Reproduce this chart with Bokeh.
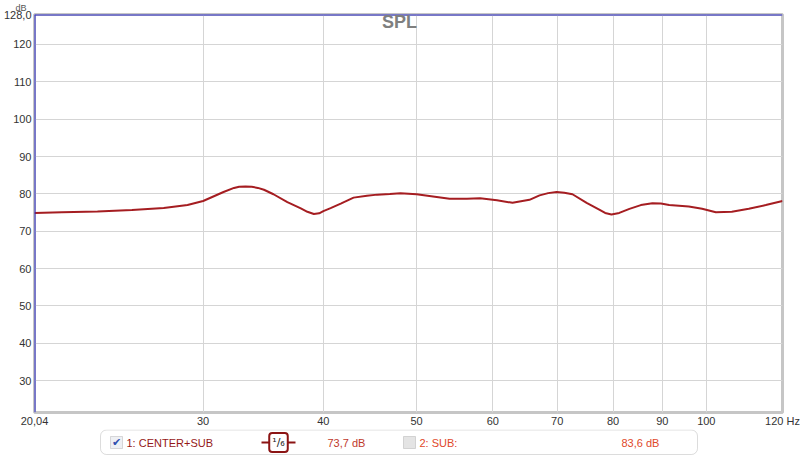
from bokeh.plotting import figure
from bokeh.layouts import column
from bokeh.models import Range1d, FixedTicker, Label, BoxAnnotation, Span, Title
from bokeh.embed import file_html
from bokeh.resources import INLINE

# ---- data ----
freq_hz = [20.04, 21.4, 23.3, 25.3, 27.3, 28.9, 30.0, 31.5, 32.3, 32.7, 33.2, 33.7, 34.2, 34.7,
           35.5, 36.7, 37.9, 38.5, 39.1, 39.6, 40.0, 40.7, 41.7, 43.0, 44.4, 45.5, 46.9, 48.1,
           50.0, 52.0, 54.1, 56.4, 58.2, 60.6, 62.9, 65.5, 67.1, 68.5, 69.9, 71.2, 72.6, 75.1,
           77.4, 78.5, 79.7, 81.2, 83.2, 85.5, 87.9, 89.7, 91.5, 95.9, 99.0, 102.3, 106.3,
           110.7, 115.3, 120.0]
spl_db = [74.9, 75.1, 75.3, 75.7, 76.2, 77.0, 78.1, 80.5, 81.6, 81.9, 82.0, 81.9, 81.6, 81.1,
          79.9, 77.8, 76.1, 75.2, 74.6, 74.8, 75.4, 76.2, 77.4, 79.0, 79.5, 79.8, 80.0, 80.2,
          79.9, 79.3, 78.7, 78.7, 78.8, 78.3, 77.6, 78.4, 79.6, 80.2, 80.5, 80.3, 79.9, 77.6,
          75.8, 74.9, 74.5, 74.9, 76.0, 77.0, 77.5, 77.4, 77.0, 76.6, 76.0, 75.1, 75.2,
          76.0, 77.0, 78.1]

x_ticks = [20.04, 30, 40, 50, 60, 70, 80, 90, 100, 120]
x_tick_labels = ["20,04", "30", "40", "50", "60", "70", "80", "90", "100", "120 Hz"]
y_ticks = [30, 40, 50, 60, 70, 80, 90, 100, 110, 120, 128]
y_tick_labels = ["30", "40", "50", "60", "70", "80", "90", "100", "110", "120", "128,0"]
x_start, x_end = 20.04, 120.0
y_start, y_end = 21.5, 128.0
y_unit_label = "dB"
title_text = "SPL"

legend_names = ["1: CENTER+SUB", "2: SUB:"]
legend_values = ["73,7 dB", "83,6 dB"]
legend_checked = [True, False]
smoothing_label = "\u00b9/\u2086"

FONT = "Liberation Sans"
CURVE = "#a51d21"
BLUE = "#2b2bc8"
FRAME_LEFT = 35  # expected left edge of the plotting frame (page px)

p = figure(width=800, height=429, x_axis_type="log",
           x_range=Range1d(x_start, x_end), y_range=Range1d(y_start, y_end),
           output_backend="svg", toolbar_location=None, title=None,
           min_border_left=33, min_border_right=18, min_border_top=14, min_border_bottom=16)
p.background_fill_color = "white"
p.border_fill_color = "white"
p.outline_line_color = "#c6c6c6"
p.outline_line_width = 3

for ax, ticks, labels in ((p.xaxis, x_ticks, x_tick_labels), (p.yaxis, y_ticks, y_tick_labels)):
    ax.ticker = FixedTicker(ticks=ticks)
    ax.major_label_overrides = {t: s for t, s in zip(ticks, labels)}
    ax.axis_line_color = None
    ax.major_tick_line_color = None
    ax.minor_tick_line_color = None
    ax.major_tick_out = 0
    ax.major_tick_in = 0
    ax.minor_tick_out = 0
    ax.major_label_text_font = FONT
    ax.major_label_text_font_size = "11px"
    ax.major_label_text_color = "#333333"
p.xaxis.major_label_standoff = 2
p.yaxis.major_label_standoff = 3

p.xgrid.ticker = FixedTicker(ticks=x_ticks[1:-1])
p.ygrid.ticker = FixedTicker(ticks=y_ticks[:-1])
for g in (p.xgrid, p.ygrid):
    g.grid_line_color = "#d5d5d5"
    g.grid_line_width = 1

p.line(freq_hz, spl_db, line_color=CURVE, line_width=2)

p.add_layout(Span(location=x_start, dimension="height", line_color=BLUE, line_width=2))
p.add_layout(Span(location=y_end, dimension="width", line_color=BLUE, line_width=2))

p.add_layout(Label(x=400 - FRAME_LEFT, y=401, x_units="screen", y_units="screen", text=title_text,
                   text_font=FONT, text_font_size="18px", text_font_style="bold",
                   text_color="#7f7f7f", text_align="center", text_baseline="top"))

p.add_layout(Title(text=y_unit_label, align="left", offset=-19, standoff=0,
                   vertical_align="top", text_font=FONT, text_font_size="9px",
                   text_font_style="normal", text_color="#555555"), "above")

# ---- legend strip (separate small canvas below the chart; its frame aligns with the chart's) ----
leg = figure(width=800, height=28, x_range=Range1d(0, 800), y_range=Range1d(0, 28),
             output_backend="svg", toolbar_location=None, title=None,
             x_axis_location=None, y_axis_location=None, min_border=0)
leg.xgrid.visible = False
leg.ygrid.visible = False
leg.outline_line_color = None
leg.background_fill_color = "white"
leg.border_fill_color = "white"

def sbox(left, right, top, bottom, **kw):
    return BoxAnnotation(left=left - FRAME_LEFT, right=right - FRAME_LEFT, top=top, bottom=bottom,
                         left_units="screen", right_units="screen",
                         top_units="screen", bottom_units="screen", **kw)

def slabel(x, y, text, **kw):
    return Label(x=x - FRAME_LEFT, y=y, x_units="screen", y_units="screen", text=text,
                 text_baseline="middle", **kw)

leg.add_layout(sbox(101, 698, 27.5, 3, fill_color="white", fill_alpha=1,
                    line_color="#8c8c8c", line_width=1, border_radius=6))

cy = 15
name_x = [127, 420]
value_x = [328, 622]
box_x = [111, 404]
name_colors = ["#951818", "#e0482a"]
value_colors = ["#c0392b", "#e0482a"]
box_fill = ["#eef0f4", "#e4e4e4"]
for i in range(2):
    leg.add_layout(sbox(box_x[i], box_x[i] + 12, cy + 6, cy - 6,
                        fill_color=box_fill[i], fill_alpha=1, line_color="#8a8a8a", line_width=1))
    if legend_checked[i]:
        leg.add_layout(slabel(box_x[i] + 6, cy, "\u2714", text_font="DejaVu Sans",
                              text_font_size="11px", text_color="#3050b0", text_align="center"))
    leg.add_layout(slabel(name_x[i], cy, legend_names[i], text_font=FONT, text_font_size="11px",
                          text_color=name_colors[i], text_align="left"))
    leg.add_layout(slabel(value_x[i], cy, legend_values[i], text_font=FONT, text_font_size="11px",
                          text_color=value_colors[i], text_align="left"))

leg.add_layout(sbox(262, 296, cy + 1, cy - 1, fill_color="#8b1414", fill_alpha=1, line_color=None))
leg.add_layout(slabel(279, cy, smoothing_label, text_font="DejaVu Sans", text_font_size="11px",
                      text_color="#222222", text_align="center",
                      border_line_color="#8b1414", border_line_width=2,
                      background_fill_color="white", padding=3, border_radius=3))

layout = column(p, leg, spacing=0)
open("out.html", "w").write(file_html(layout, INLINE))
